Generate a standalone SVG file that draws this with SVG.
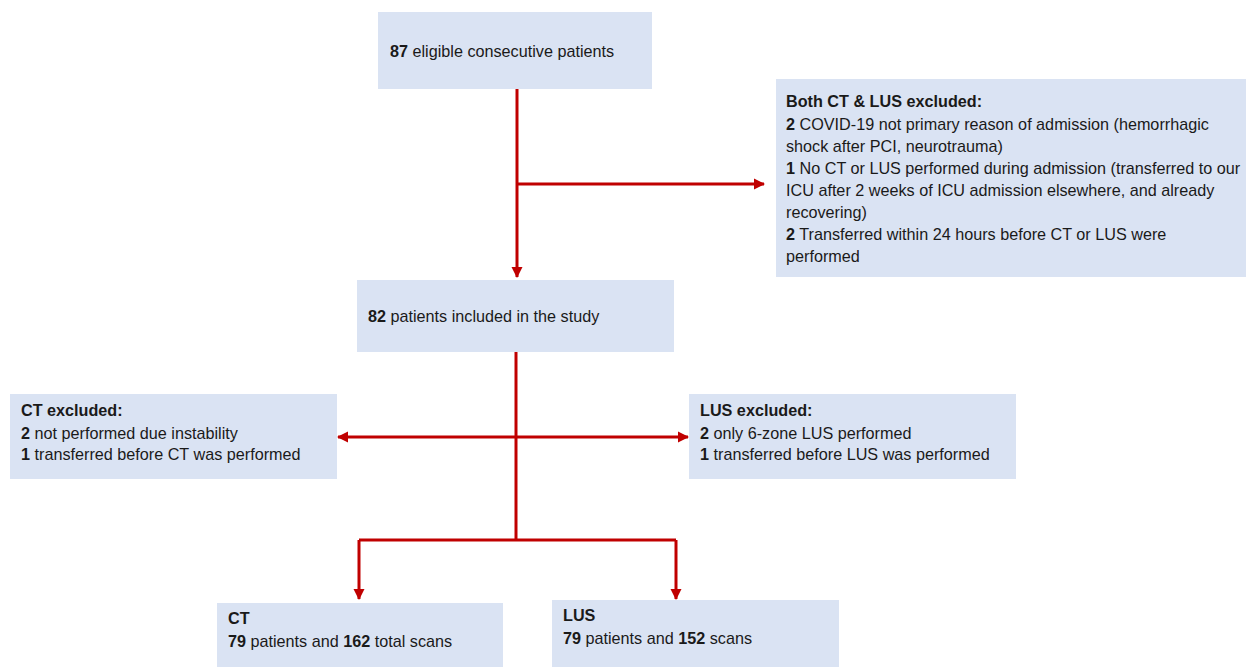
<svg xmlns="http://www.w3.org/2000/svg" width="1246" height="667" viewBox="0 0 1246 667">
<style>
.box{fill:#DAE3F3;}
text{font-family:"Liberation Sans",Arial,sans-serif;font-size:16.2px;fill:#1a1a1a;}
.b{font-weight:bold;}
.c{fill:none;stroke:#C00000;stroke-width:3;}
</style>
<defs>
<marker id="ah" markerWidth="12" markerHeight="12" refX="10" refY="6" orient="auto" markerUnits="userSpaceOnUse" viewBox="0 0 12 12">
<path d="M0,0.5 L11,6 L0,11.5 z" fill="#C00000"/>
</marker>
</defs>
<rect width="1246" height="667" fill="#ffffff"/>
<g id="connectors">
<path class="c" d="M517,89 V277" marker-end="url(#ah)"/>
<path class="c" d="M517,184 H764" marker-end="url(#ah)"/>
<path class="c" d="M516,352 V540"/>
<path class="c" d="M516,437 H338" marker-end="url(#ah)"/>
<path class="c" d="M516,437 H688" marker-end="url(#ah)"/>
<path class="c" d="M359,540 H676"/>
<path class="c" d="M359,540 V599" marker-end="url(#ah)"/>
<path class="c" d="M676,540 V599" marker-end="url(#ah)"/>
</g>
<g id="n1">
<rect class="box" x="378" y="12" width="274" height="77"/>
<text x="390" y="57"><tspan class="b">87</tspan> eligible consecutive patients</text>
</g>
<g id="n2">
<rect class="box" x="776" y="79" width="470" height="198"/>
<text x="786" y="107" class="b">Both CT &amp; LUS excluded:</text>
<text x="786" y="130"><tspan class="b">2</tspan> COVID-19 not primary reason of admission (hemorrhagic</text>
<text x="786" y="152">shock after PCI, neurotrauma)</text>
<text x="786" y="174"><tspan class="b">1</tspan> No CT or LUS performed during admission (transferred to our</text>
<text x="786" y="196">ICU after 2 weeks of ICU admission elsewhere, and already</text>
<text x="786" y="218">recovering)</text>
<text x="786" y="240"><tspan class="b">2</tspan> Transferred within 24 hours before CT or LUS were</text>
<text x="786" y="262">performed</text>
</g>
<g id="n3">
<rect class="box" x="357" y="280" width="317" height="72"/>
<text x="368" y="322"><tspan class="b">82</tspan> patients included in the study</text>
</g>
<g id="n4">
<rect class="box" x="10" y="394" width="327" height="85"/>
<text x="21" y="416" class="b">CT excluded:</text>
<text x="21" y="439"><tspan class="b">2</tspan> not performed due instability</text>
<text x="21" y="460"><tspan class="b">1</tspan> transferred before CT was performed</text>
</g>
<g id="n5">
<rect class="box" x="689" y="394" width="327" height="85"/>
<text x="700" y="416" class="b">LUS excluded:</text>
<text x="700" y="439"><tspan class="b">2</tspan> only 6-zone LUS performed</text>
<text x="700" y="460"><tspan class="b">1</tspan> transferred before LUS was performed</text>
</g>
<g id="n6">
<rect class="box" x="217" y="603" width="286" height="64"/>
<text x="228" y="624" class="b">CT</text>
<text x="228" y="647"><tspan class="b">79</tspan> patients and <tspan class="b">162</tspan> total scans</text>
</g>
<g id="n7">
<rect class="box" x="552" y="600" width="287" height="67"/>
<text x="563" y="621" class="b">LUS</text>
<text x="563" y="644"><tspan class="b">79</tspan> patients and <tspan class="b">152</tspan> scans</text>
</g>
</svg>
